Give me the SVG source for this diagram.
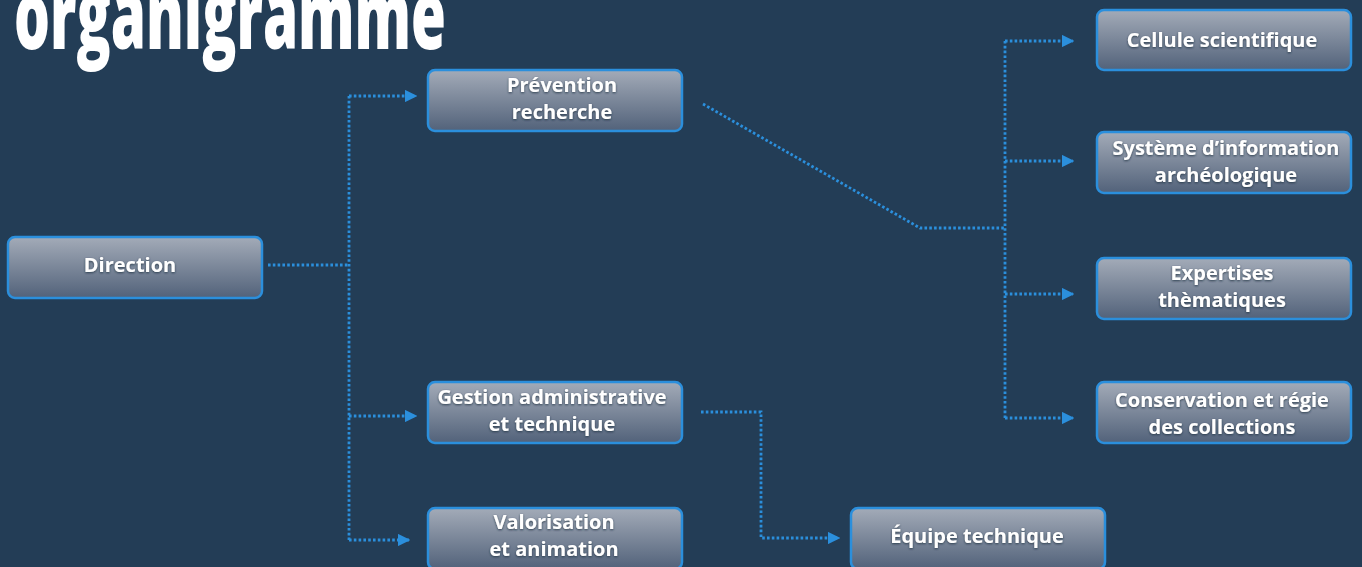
<svg xmlns="http://www.w3.org/2000/svg" width="1362" height="567" viewBox="0 0 1362 567">
<defs>
<linearGradient id="bg" x1="0" y1="0" x2="0" y2="1">
<stop offset="0" stop-color="#a3abb8"/>
<stop offset="1" stop-color="#52627a"/>
</linearGradient>
<marker id="arr" viewBox="0 0 10 10" refX="9" refY="5" markerWidth="4.5" markerHeight="4.5" orient="auto" markerUnits="strokeWidth">
<path d="M0,0 L10,5 L0,10 z" fill="#2b8fdc"/>
</marker>
<filter id="sh" x="-10%" y="-20%" width="120%" height="140%">
<feDropShadow dx="0" dy="1" stdDeviation="1" flood-color="#1a2a3a" flood-opacity="0.8"/>
</filter>
</defs>
<style>
.box{fill:url(#bg);stroke:#2b8fdc;stroke-width:2.5}
.t{font-family:"Open Sans","Lato",sans-serif;font-weight:700;font-size:20px;fill:#ffffff;text-anchor:middle;filter:url(#sh)}
.c{fill:none;stroke:#2b8fdc;stroke-width:2.8;stroke-dasharray:2.6 2.2}
.title{font-family:"Open Sans","DejaVu Sans",sans-serif;font-weight:800;font-size:96px;fill:#ffffff}
</style>
<rect width="1362" height="567" fill="#233d56"/>
<text class="title" x="14" y="49" textLength="432" lengthAdjust="spacingAndGlyphs">organigramme</text>

<g id="connectors">
<path class="c" d="M268,265 H349"/>
<path class="c" d="M349,96 V540"/>
<path class="c" d="M349,96 H416" marker-end="url(#arr)"/>
<path class="c" d="M349,416 H416" marker-end="url(#arr)"/>
<path class="c" d="M349,540 H409" marker-end="url(#arr)"/>
<path class="c" d="M703,104 L920,228 H1005"/>
<path class="c" d="M1005,41 V418"/>
<path class="c" d="M1005,41 H1073" marker-end="url(#arr)"/>
<path class="c" d="M1005,161 H1073" marker-end="url(#arr)"/>
<path class="c" d="M1005,294 H1073" marker-end="url(#arr)"/>
<path class="c" d="M1005,418 H1073" marker-end="url(#arr)"/>
<path class="c" d="M701,412 H761 V538 H839" marker-end="url(#arr)"/>
</g>

<g id="direction">
<rect class="box" x="8" y="237" width="254" height="61" rx="7"/>
<text class="t" x="130" y="272">Direction</text>
</g>
<g id="prevention">
<rect class="box" x="428" y="70" width="254" height="61" rx="7"/>
<text class="t" x="562" y="92">Prévention</text>
<text class="t" x="562" y="119">recherche</text>
</g>
<g id="gestion">
<rect class="box" x="428" y="382" width="254" height="61" rx="7"/>
<text class="t" x="552" y="404">Gestion administrative</text>
<text class="t" x="552" y="431">et technique</text>
</g>
<g id="valorisation">
<rect class="box" x="428" y="508" width="254" height="61" rx="7"/>
<text class="t" x="554" y="529">Valorisation</text>
<text class="t" x="554" y="556">et animation</text>
</g>
<g id="equipe">
<rect class="box" x="851" y="508" width="254" height="61" rx="7"/>
<text class="t" x="977" y="543">Équipe technique</text>
</g>
<g id="cellule">
<rect class="box" x="1097" y="10" width="254" height="60" rx="7"/>
<text class="t" x="1222" y="47">Cellule scientifique</text>
</g>
<g id="systeme">
<rect class="box" x="1097" y="132" width="254" height="61" rx="7"/>
<text class="t" x="1226" y="155">Système d’information</text>
<text class="t" x="1226" y="182">archéologique</text>
</g>
<g id="expertises">
<rect class="box" x="1097" y="258" width="254" height="61" rx="7"/>
<text class="t" x="1222" y="280">Expertises</text>
<text class="t" x="1222" y="307">thèmatiques</text>
</g>
<g id="conservation">
<rect class="box" x="1097" y="382" width="254" height="61" rx="7"/>
<text class="t" x="1222" y="407">Conservation et régie</text>
<text class="t" x="1222" y="434">des collections</text>
</g>
</svg>
